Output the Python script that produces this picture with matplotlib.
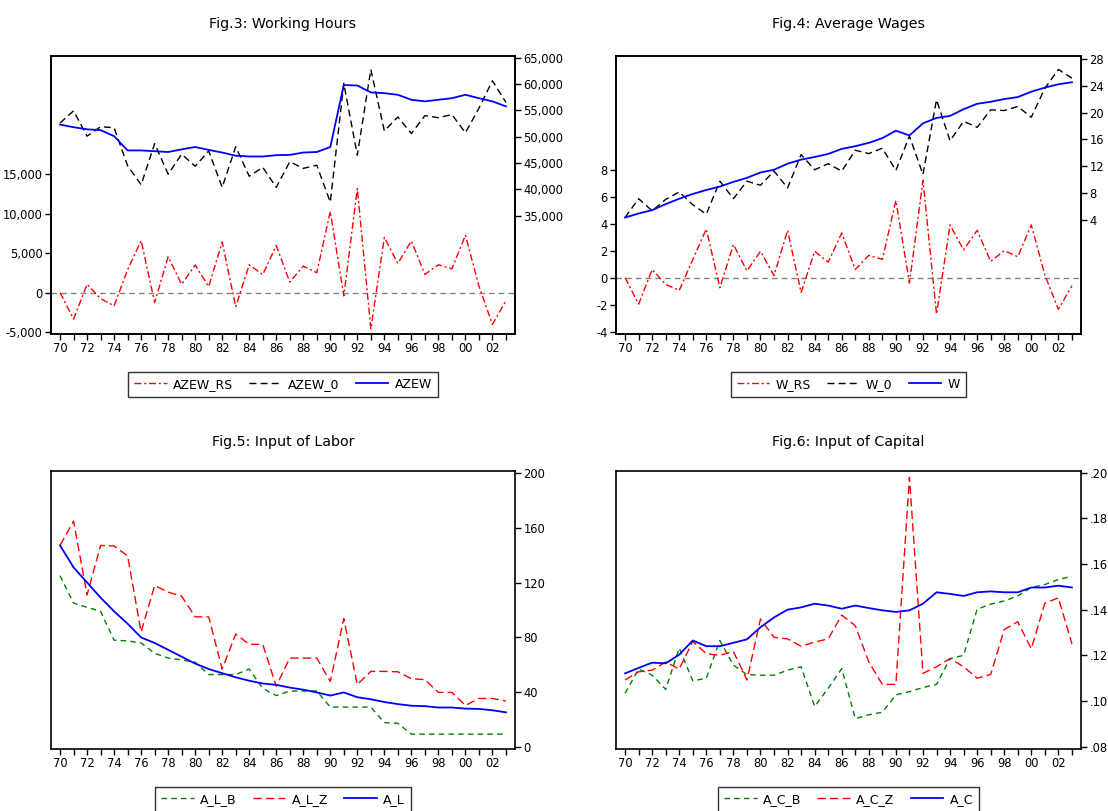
import matplotlib
matplotlib.use("Agg")
import matplotlib.pyplot as plt
import matplotlib.ticker as mticker

plt.rcParams['font.family'] = ['DejaVu Sans']

years = list(range(1970, 2004))
year_labels = ["70", "72", "74", "76", "78", "80", "82", "84", "86", "88",
               "90", "92", "94", "96", "98", "00", "02"]

# Fig.3 Working hours
azew_rs = [0, -3360, 1050, -760, -1680, 2900, 6600, -1260, 4540, 1050,
           3490, 760, 6430, -1800, 3530, 2270, 5970, 1340, 3360, 2520,
           10300, -420, 13200, -4600, 7000, 3700, 6550, 2310, 3530, 3020,
           7270, 840, -4030, -1050]
azew_0 = [52600, 54900, 50100, 51900, 51700, 44500, 40900, 48700, 42900, 46700,
          44400, 47300, 40400, 48100, 42500, 44200, 40400, 45250, 44000, 44600,
          37600, 60100, 46500, 62750, 51100, 53750, 50600, 54000, 53600, 54200,
          50750, 55400, 60600, 56500]
azew = [52300, 51800, 51400, 51250, 50100, 47400, 47400, 47250, 47100, 47600,
        48050, 47500, 47000, 46400, 46250, 46250, 46500, 46550, 47000, 47100,
        48050, 59800, 59700, 58400, 58250, 57950, 57000, 56700, 57000, 57300,
        57950, 57300, 56700, 55750]

# Fig.4 Average wages
w_rs = [0, -1.96, 0.6, -0.5, -0.95, 1.35, 3.6, -0.75, 2.45, 0.5,
        1.95, 0.15, 3.5, -1.1, 1.95, 1.15, 3.3, 0.6, 1.65, 1.35,
        5.7, -0.4, 7.2, -2.7, 3.9, 2.05, 3.5, 1.2, 2.0, 1.55,
        3.9, 0.2, -2.35, -0.6]
w_0 = [4.4, 7.2, 5.4, 7.1, 8.2, 6.3, 4.9, 9.8, 7.2, 9.8,
       9.2, 11.3, 8.8, 13.75, 11.5, 12.4, 11.3, 14.4, 13.9, 14.7,
       11.4, 16.5, 10.8, 21.9, 15.8, 18.7, 17.8, 20.4, 20.3, 20.9,
       19.3, 23.6, 26.4, 25.1]
w = [4.4, 5.0, 5.5, 6.4, 7.2, 7.9, 8.5, 9.0, 9.7, 10.3,
     11.1, 11.5, 12.4, 13.0, 13.4, 13.85, 14.6, 15.0, 15.5, 16.2,
     17.3, 16.6, 18.4, 19.2, 19.5, 20.5, 21.3, 21.6, 22.0, 22.3,
     23.1, 23.7, 24.2, 24.5]

# Fig.5 Input of labor
a_l_b = [125, 105, 102, 99, 78, 77.5, 76, 68.5, 65, 63.7,
         62, 53, 53, 53, 57, 43, 37.7, 41, 41, 41,
         29.3, 29.3, 29.3, 29.3, 18, 17.5, 9.6, 9.6, 9.6, 9.6,
         9.6, 9.6, 9.6, 9.6]
a_l_z = [147, 164.7, 111, 147, 146.6, 139.4, 84, 117.8, 113, 110,
         95, 95, 57, 82.5, 75, 75, 44.5, 65, 65, 65,
         48, 93.75, 45.7, 55.3, 55.3, 55, 50, 49.3, 40, 40,
         30.5, 35.6, 35.6, 33.7]
a_l = [147, 131, 120, 109, 99, 90, 80, 76, 71, 66,
       61, 57, 54, 51, 48.5, 46.5, 45.5, 43.5, 42, 40,
       37.7, 40, 36.5, 35, 33, 31.5, 30.3, 30, 29, 29,
       28.2, 28, 27, 25.5]

# Fig.6 Input of capital
a_c_b = [0.1034, 0.114, 0.1113, 0.1051, 0.1232, 0.1088, 0.110, 0.1265, 0.1157, 0.1116,
         0.1113, 0.1113, 0.1135, 0.115, 0.0976, 0.1056, 0.1142, 0.0923, 0.094, 0.0951,
         0.1027, 0.1041, 0.1059, 0.1073, 0.1186, 0.120, 0.1402, 0.1424, 0.1438, 0.146,
         0.1497, 0.151, 0.1532, 0.1546]
a_c_z = [0.1092, 0.1128, 0.1135, 0.1171, 0.114, 0.1261, 0.1207, 0.120, 0.1217, 0.1092,
         0.1359, 0.1279, 0.1272, 0.124, 0.1258, 0.1272, 0.1376, 0.133, 0.1171, 0.1073,
         0.1073, 0.1979, 0.1121, 0.115, 0.1186, 0.115, 0.110, 0.1116, 0.1313, 0.1347,
         0.1229, 0.1428, 0.1452, 0.125]
a_c = [0.1121, 0.1145, 0.1168, 0.1165, 0.1203, 0.1265, 0.124, 0.124, 0.1255, 0.127,
       0.1323, 0.1366, 0.140, 0.141, 0.1426, 0.1418, 0.1404, 0.1418, 0.1407, 0.1397,
       0.139, 0.1397, 0.1426, 0.1476, 0.1469, 0.146, 0.1476, 0.148, 0.1476, 0.1476,
       0.1497, 0.1497, 0.1505, 0.1497]

W, H = 1108, 811
fig = plt.figure(figsize=(W / 100, H / 100), dpi=100)

FS = 8.3
TFS = 10.3
LFS = 9.0
RED = '#ff0000'
BLUE = '#0000ff'
GREEN = '#008000'
DASH_DOT = (0, (5, 2, 1.5, 2))
DASH = (0, (5, 3))


def px_axes(x0, y0, x1, y1):
    return fig.add_axes([x0 / W, 1 - y1 / H, (x1 - x0) / W, (y1 - y0) / H])


def style_xaxis(ax):
    ax.set_xlim(1969.33, 2003.67)
    ax.set_xticks(years)
    labs = [year_labels[(y - 1970) // 2] if (y - 1970) % 2 == 0 else '' for y in years]
    ax.set_xticklabels(labs)
    ax.tick_params(axis='x', direction='out', length=4, width=1, labelsize=FS, pad=2)
    for s in ax.spines.values():
        s.set_linewidth(1.2)
        s.set_color('black')


def comma_fmt(v, pos):
    return f"{int(round(v)):,}"


def int_fmt(v, pos):
    return f"{int(round(v))}"


def dot_fmt(v, pos):
    return f"{v:.2f}".lstrip('0')


def make_legend(ax, handles, labels, yoff):
    leg = ax.legend(handles, labels, loc='upper center', bbox_to_anchor=(0.5, yoff),
                    ncol=3, fontsize=LFS, frameon=True, fancybox=False,
                    edgecolor='black', handlelength=2.6, handletextpad=0.5,
                    columnspacing=1.3, borderpad=0.5, borderaxespad=0)
    leg.get_frame().set_linewidth(1.0)
    return leg


def residual_panel(x0, y0, x1, y1, title, rs, act, fit, lylim, lticks, ryl, rticks,
                   lfmt, rfmt, names):
    ax = px_axes(x0, y0, x1, y1)
    style_xaxis(ax)
    ax.axhline(0, color='#808080', lw=1.0, linestyle=(0, (4, 3)), zorder=1)
    l1, = ax.plot(years, rs, color=RED, lw=1.0, linestyle=DASH_DOT, zorder=2)
    ax.set_ylim(*lylim)
    ax.set_yticks(lticks)
    ax.yaxis.set_major_formatter(mticker.FuncFormatter(lfmt))
    ax.tick_params(axis='y', direction='out', length=4, width=1, labelsize=FS, pad=2)
    ax2 = ax.twinx()
    l2, = ax2.plot(years, act, color='black', lw=1.0, linestyle=DASH, zorder=3)
    l3, = ax2.plot(years, fit, color=BLUE, lw=1.3, zorder=4)
    ax2.set_ylim(*ryl)
    ax2.set_yticks(rticks)
    ax2.yaxis.set_major_formatter(mticker.FuncFormatter(rfmt))
    ax2.tick_params(axis='y', direction='out', length=4, width=1, labelsize=FS, pad=2)
    for s in ax2.spines.values():
        s.set_linewidth(1.2)
    ax.set_title(title, fontsize=TFS, pad=20)
    make_legend(ax, [l1, l2, l3], names, -0.135)
    return ax


def level_panel(x0, y0, x1, y1, title, b, z, f, ylim, ticks, fmt, names):
    ax = px_axes(x0, y0, x1, y1)
    style_xaxis(ax)
    l1, = ax.plot(years, b, color=GREEN, lw=1.0, linestyle=(0, (4, 3)), zorder=2)
    l2, = ax.plot(years, z, color=RED, lw=1.0, linestyle=(0, (6, 3)), zorder=3)
    l3, = ax.plot(years, f, color=BLUE, lw=1.3, zorder=4)
    ax.set_ylim(*ylim)
    ax.set_yticks(ticks)
    ax.yaxis.tick_right()
    ax.yaxis.set_major_formatter(mticker.FuncFormatter(fmt))
    ax.tick_params(axis='y', direction='out', length=4, width=1, labelsize=FS, pad=2)
    ax.set_title(title, fontsize=TFS, pad=18)
    make_legend(ax, [l1, l2, l3], names, -0.135)
    return ax


residual_panel(51, 56, 515, 334, "Fig.3: Working Hours", azew_rs, azew_0, azew,
               (-5250, 30000), [-5000, 0, 5000, 10000, 15000],
               (12600, 65300), [35000, 40000, 45000, 50000, 55000, 60000, 65000],
               comma_fmt, comma_fmt, ["AZEW_RS", "AZEW_0", "AZEW"])

residual_panel(616, 56, 1081, 334, "Fig.4: Average Wages", w_rs, w_0, w,
               (-4.17, 16.4), [-4, -2, 0, 2, 4, 6, 8],
               (-12.9, 28.4), [4, 8, 12, 16, 20, 24, 28],
               int_fmt, int_fmt, ["W_RS", "W_0", "W"])

level_panel(51, 471, 515, 749, "Fig.5: Input of Labor", a_l_b, a_l_z, a_l,
            (-1.2, 201.2), [0, 40, 80, 120, 160, 200],
            int_fmt, ["A_L_B", "A_L_Z", "A_L"])

level_panel(616, 471, 1081, 749, "Fig.6: Input of Capital", a_c_b, a_c_z, a_c,
            (0.0790, 0.2007), [0.08, 0.10, 0.12, 0.14, 0.16, 0.18, 0.20],
            dot_fmt, ["A_C_B", "A_C_Z", "A_C"])

fig.savefig("out.png", dpi=100)
